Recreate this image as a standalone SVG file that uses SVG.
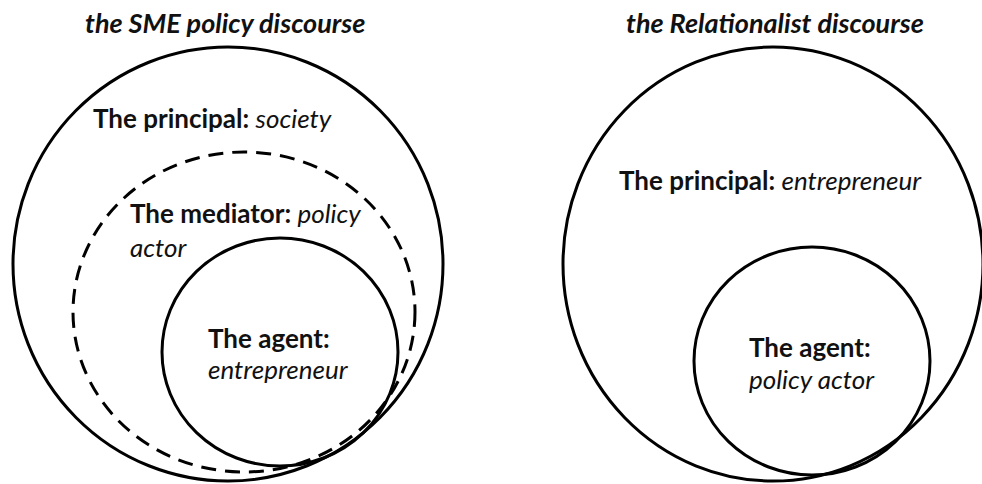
<svg xmlns="http://www.w3.org/2000/svg" width="982" height="484" viewBox="0 0 982 484">
  <style>
    .ring { fill: none; stroke: #000; stroke-width: 3; }
    .dashed { stroke-dasharray: 15 9; }
    .title { font-family: Lato, "Open Sans", sans-serif; font-weight: bold; font-style: italic; font-size: 27px; fill: #111; }
    .lbl { font-family: Lato, "Open Sans", sans-serif; font-size: 26px; fill: #111; }
    .b { font-weight: bold; }
    .i { font-style: italic; }
  </style>
  <rect width="982" height="484" fill="#fff"/>

  <!-- left panel -->
  <text class="title" x="85" y="33">the SME policy discourse</text>
  <g id="principal-society">
    <ellipse class="ring" cx="228" cy="264" rx="215" ry="217"/>
    <text class="lbl" x="93" y="128"><tspan class="b">The principal: </tspan><tspan class="i">society</tspan></text>
  </g>
  <g id="mediator-policy-actor">
    <ellipse class="ring dashed" cx="244" cy="312" rx="171" ry="160"/>
    <text class="lbl" x="130" y="223"><tspan class="b">The mediator: </tspan><tspan class="i">policy</tspan></text>
    <text class="lbl i" x="130" y="257">actor</text>
  </g>
  <g id="agent-entrepreneur">
    <ellipse class="ring" cx="280" cy="352" rx="118" ry="114"/>
    <text class="lbl b" x="208" y="348">The agent:</text>
    <text class="lbl i" x="208" y="379">entrepreneur</text>
  </g>

  <!-- right panel -->
  <text class="title" x="626" y="33">the Relationalist discourse</text>
  <g id="principal-entrepreneur">
    <ellipse class="ring" cx="773" cy="264" rx="210" ry="217"/>
    <text class="lbl" x="619" y="190"><tspan class="b">The principal: </tspan><tspan class="i">entrepreneur</tspan></text>
  </g>
  <g id="agent-policy-actor">
    <ellipse class="ring" cx="812" cy="361" rx="118" ry="114"/>
    <text class="lbl b" x="749" y="357">The agent:</text>
    <text class="lbl i" x="749" y="389">policy actor</text>
  </g>

  <g id="connectors"/>
</svg>
